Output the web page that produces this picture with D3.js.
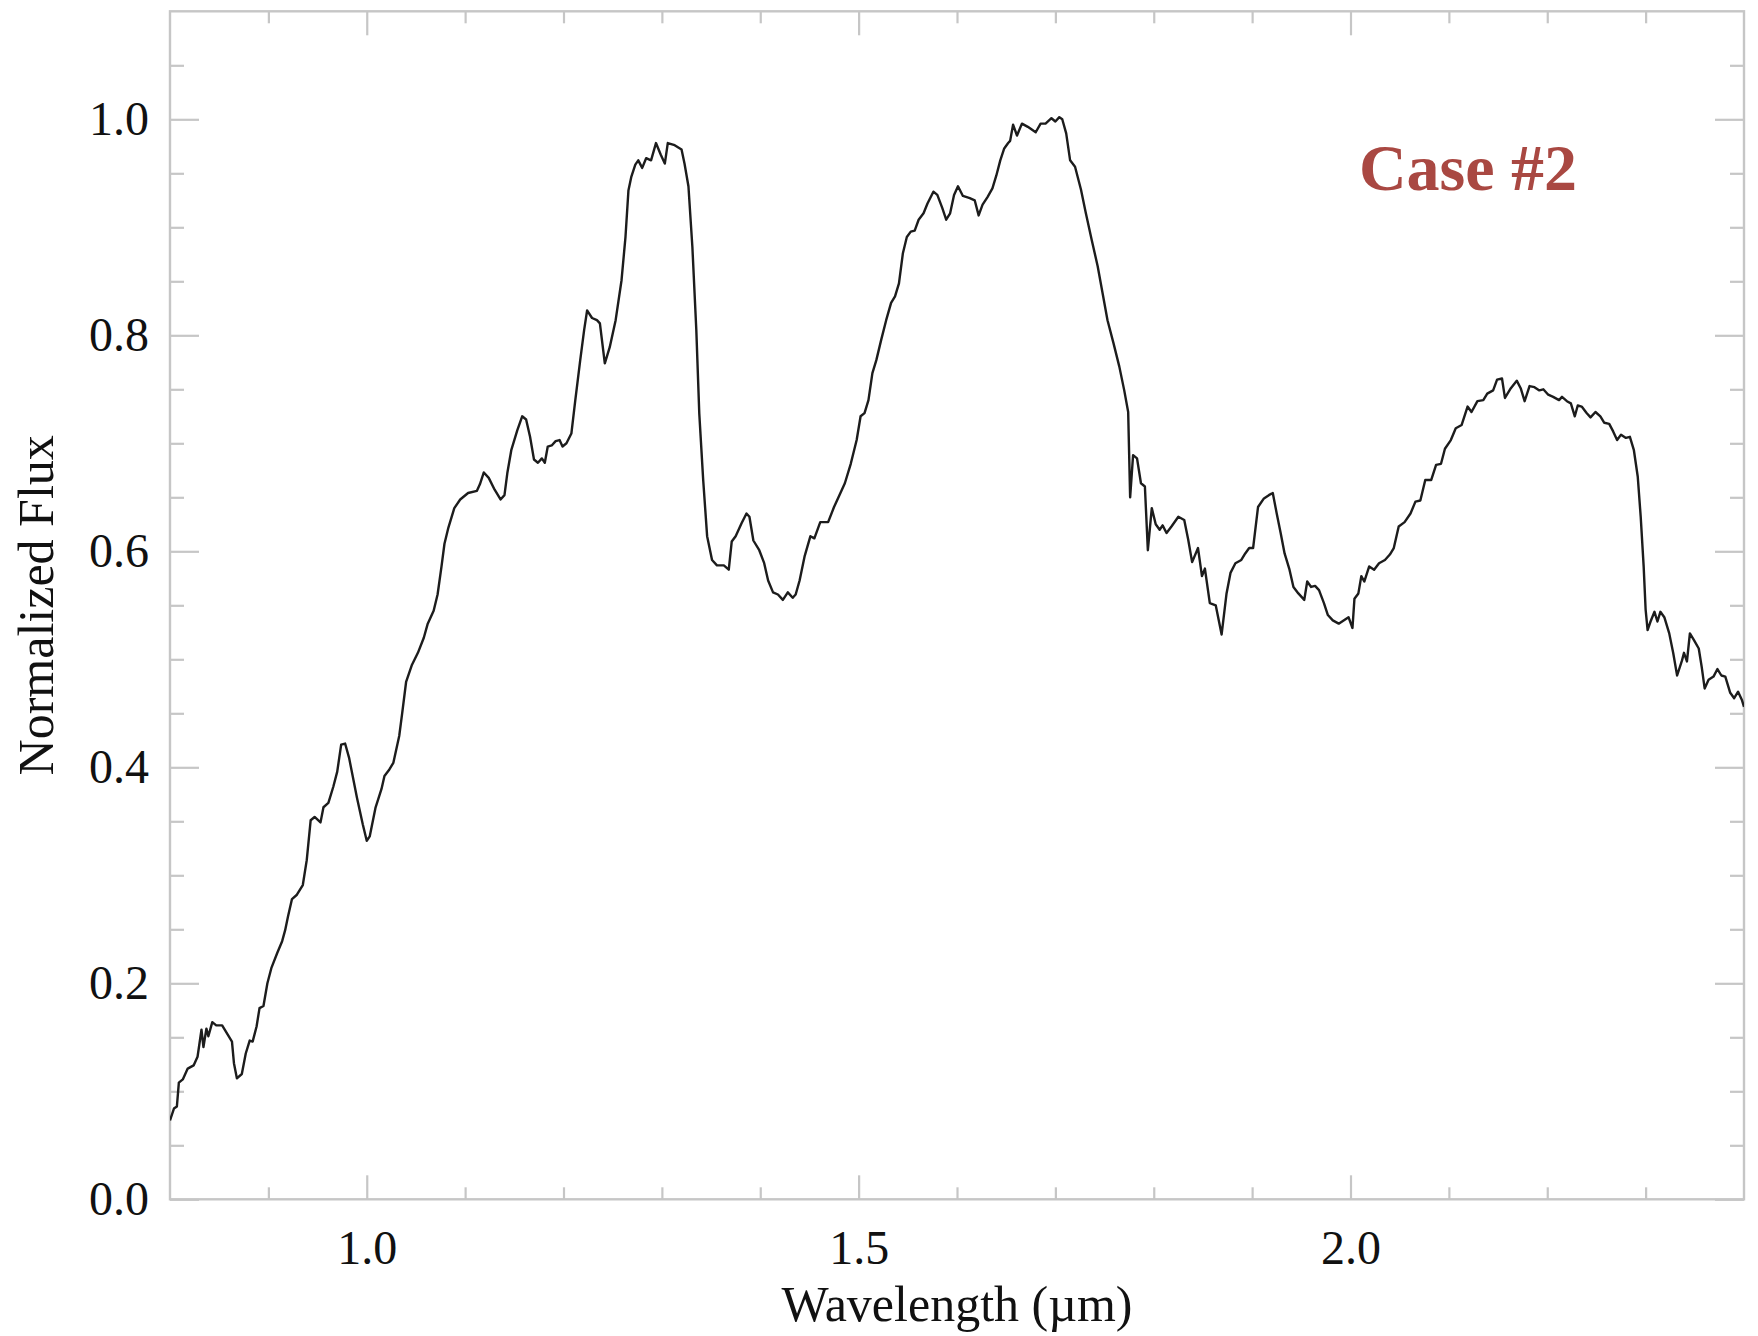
<!DOCTYPE html>
<html>
<head>
<meta charset="utf-8">
<script src="https://cdn.jsdelivr.net/npm/d3@7"></script>
<style>
  html, body { margin: 0; padding: 0; background: #ffffff; }
  svg { display: block; }
  .tick text { font-family: "Liberation Serif", "Times New Roman", serif; fill: #111; }
</style>
</head>
<body>
<svg id="chart" width="1758" height="1336"></svg>
<script>
// Spectrum samples: wavelength in microns and normalized flux
const wavelength = [
  0.800,0.804,0.807,0.809,0.813,0.818,0.824,0.828,0.832,0.834,0.837,0.839,0.843,0.847,0.853,0.859,0.863,0.865,0.868,0.873,
  0.877,0.881,0.884,0.888,0.891,0.895,0.899,0.903,0.909,0.914,0.917,0.920,0.924,0.929,0.935,0.939,0.943,0.947,0.953,0.956,
  0.961,0.966,0.970,0.974,0.978,0.982,0.990,0.996,1.000,1.003,1.009,1.015,1.018,1.023,1.027,1.033,1.036,1.040,1.046,1.052,
  1.058,1.062,1.068,1.072,1.076,1.079,1.083,1.089,1.095,1.103,1.112,1.115,1.119,1.124,1.130,1.136,1.140,1.143,1.147,1.153,
  1.158,1.162,1.166,1.170,1.174,1.178,1.181,1.184,1.188,1.192,1.196,1.199,1.203,1.208,1.212,1.217,1.221,1.224,1.229,1.234,
  1.237,1.242,1.247,1.253,1.259,1.263,1.266,1.269,1.273,1.276,1.280,1.284,1.289,1.294,1.299,1.303,1.306,1.313,1.320,1.323,
  1.327,1.331,1.335,1.338,1.342,1.346,1.351,1.356,1.363,1.368,1.371,1.375,1.381,1.386,1.389,1.393,1.399,1.404,1.408,1.413,
  1.418,1.423,1.428,1.433,1.436,1.440,1.445,1.451,1.455,1.461,1.469,1.475,1.480,1.486,1.492,1.498,1.502,1.506,1.510,1.514,
  1.518,1.523,1.528,1.533,1.537,1.541,1.545,1.549,1.553,1.557,1.561,1.566,1.570,1.576,1.580,1.585,1.589,1.593,1.597,1.601,
  1.606,1.613,1.618,1.622,1.626,1.631,1.636,1.640,1.644,1.648,1.652,1.654,1.657,1.661,1.666,1.672,1.680,1.685,1.690,1.696,
  1.700,1.704,1.707,1.711,1.715,1.720,1.726,1.731,1.737,1.743,1.748,1.753,1.759,1.765,1.770,1.774,1.776,1.779,1.783,1.787,
  1.791,1.794,1.798,1.802,1.806,1.809,1.813,1.818,1.825,1.831,1.835,1.839,1.845,1.849,1.852,1.857,1.863,1.869,1.874,1.878,
  1.883,1.889,1.893,1.897,1.901,1.906,1.912,1.917,1.921,1.925,1.929,1.933,1.938,1.942,1.947,1.953,1.956,1.960,1.964,1.968,
  1.973,1.977,1.982,1.988,1.993,1.998,2.002,2.004,2.008,2.011,2.014,2.019,2.024,2.029,2.035,2.040,2.044,2.049,2.055,2.061,
  2.066,2.071,2.076,2.082,2.087,2.092,2.096,2.102,2.107,2.113,2.119,2.123,2.129,2.135,2.139,2.145,2.149,2.154,2.157,2.163,
  2.169,2.173,2.177,2.182,2.187,2.192,2.196,2.201,2.206,2.212,2.215,2.220,2.224,2.228,2.231,2.235,2.240,2.244,2.249,2.254,
  2.258,2.263,2.267,2.271,2.275,2.280,2.284,2.288,2.292,2.295,2.298,2.300,2.302,2.305,2.309,2.312,2.315,2.319,2.324,2.328,
  2.332,2.337,2.339,2.342,2.345,2.349,2.354,2.357,2.360,2.364,2.369,2.373,2.377,2.381,2.386,2.390,2.394,2.398,2.400
];
const flux = [
  0.073,0.084,0.086,0.108,0.111,0.121,0.124,0.132,0.157,0.141,0.158,0.151,0.164,0.161,0.161,0.152,0.146,0.126,0.112,0.116,
  0.135,0.147,0.146,0.160,0.177,0.179,0.200,0.214,0.228,0.239,0.249,0.262,0.278,0.282,0.291,0.314,0.351,0.354,0.349,0.363,
  0.367,0.382,0.396,0.421,0.422,0.409,0.372,0.347,0.332,0.336,0.363,0.380,0.392,0.398,0.404,0.429,0.450,0.479,0.495,0.506,
  0.520,0.533,0.545,0.560,0.586,0.607,0.622,0.640,0.648,0.654,0.656,0.662,0.673,0.668,0.657,0.648,0.652,0.673,0.694,0.712,
  0.725,0.722,0.706,0.685,0.682,0.686,0.682,0.697,0.698,0.702,0.703,0.697,0.700,0.709,0.740,0.777,0.805,0.823,0.816,0.814,
  0.811,0.774,0.789,0.814,0.851,0.891,0.934,0.947,0.958,0.962,0.955,0.964,0.962,0.978,0.967,0.959,0.978,0.976,0.972,0.959,
  0.938,0.882,0.805,0.728,0.666,0.614,0.592,0.587,0.587,0.583,0.609,0.614,0.626,0.635,0.632,0.610,0.601,0.589,0.573,0.562,
  0.560,0.555,0.562,0.557,0.560,0.573,0.595,0.614,0.612,0.627,0.627,0.641,0.651,0.663,0.681,0.703,0.725,0.728,0.740,0.765,
  0.777,0.796,0.814,0.830,0.836,0.848,0.876,0.891,0.896,0.897,0.907,0.913,0.922,0.933,0.930,0.918,0.907,0.913,0.930,0.938,
  0.929,0.927,0.925,0.911,0.921,0.928,0.936,0.948,0.962,0.973,0.978,0.980,0.995,0.985,0.996,0.993,0.988,0.996,0.996,1.001,
  0.998,1.002,1.000,0.987,0.962,0.956,0.935,0.913,0.888,0.864,0.839,0.814,0.793,0.771,0.749,0.729,0.650,0.689,0.686,0.663,
  0.660,0.601,0.640,0.625,0.620,0.624,0.617,0.623,0.632,0.629,0.611,0.590,0.603,0.577,0.584,0.552,0.550,0.523,0.561,0.580,
  0.589,0.592,0.598,0.603,0.603,0.641,0.649,0.652,0.654,0.635,0.617,0.598,0.583,0.567,0.561,0.555,0.572,0.567,0.568,0.564,
  0.552,0.541,0.536,0.533,0.536,0.539,0.529,0.556,0.561,0.577,0.572,0.586,0.583,0.589,0.592,0.597,0.603,0.623,0.627,0.635,
  0.646,0.647,0.666,0.666,0.680,0.681,0.695,0.703,0.714,0.717,0.734,0.729,0.739,0.740,0.746,0.749,0.759,0.760,0.742,0.751,
  0.758,0.751,0.739,0.753,0.752,0.749,0.750,0.745,0.743,0.740,0.743,0.739,0.737,0.725,0.735,0.734,0.728,0.724,0.729,0.725,
  0.719,0.718,0.711,0.703,0.708,0.705,0.706,0.694,0.669,0.632,0.586,0.546,0.527,0.535,0.544,0.535,0.544,0.539,0.524,0.506,
  0.485,0.499,0.506,0.498,0.524,0.518,0.510,0.493,0.473,0.481,0.484,0.491,0.485,0.484,0.469,0.464,0.470,0.462,0.456
];

// Axis ticks
const xMajorTicks = [1.0, 1.5, 2.0];
const xMinorTicks = [0.9, 1.1, 1.2, 1.3, 1.4, 1.6, 1.7, 1.8, 1.9, 2.1, 2.2, 2.3];
const yMajorTicks = [0.0, 0.2, 0.4, 0.6, 0.8, 1.0];
const yMinorTicks = [0.05, 0.1, 0.15, 0.25, 0.3, 0.35, 0.45, 0.5, 0.55, 0.65, 0.7, 0.75, 0.85, 0.9, 0.95, 1.05];

const xLabel = "Wavelength (\u00b5m)";
const yLabel = "Normalized Flux";
const caseLabel = "Case #2";

const W = 1758, H = 1336;
const plot = { left: 170, right: 1744, top: 11.3, bottom: 1199.3 };
const axisColor = "#c6c6c6";
const serif = '"Liberation Serif", "Times New Roman", serif';

const svg = d3.select("#chart");
svg.append("rect").attr("width", W).attr("height", H).attr("fill", "#fff");

const x = d3.scaleLinear().domain([0.8, 2.4]).range([plot.left, plot.right]);
const y = d3.scaleLinear().domain([0, 1.1]).range([plot.bottom, plot.top]);

function styleAxis(g) {
  g.select(".domain").remove();
  g.selectAll(".tick line").attr("stroke", axisColor).attr("stroke-width", 2.2);
  g.selectAll(".tick text").attr("font-family", serif).attr("font-size", 48).attr("fill", "#111");
}

// bottom axis: major ticks with labels, minor ticks without
svg.append("g").attr("transform", `translate(0,${plot.bottom})`)
  .call(d3.axisBottom(x).tickValues(xMajorTicks).tickSize(-24).tickPadding(31).tickFormat(d3.format(".1f")))
  .call(styleAxis);
svg.append("g").attr("transform", `translate(0,${plot.bottom})`)
  .call(d3.axisBottom(x).tickValues(xMinorTicks).tickSize(-12).tickFormat(""))
  .call(styleAxis);
// top axis
svg.append("g").attr("transform", `translate(0,${plot.top})`)
  .call(d3.axisTop(x).tickValues(xMajorTicks).tickSize(-24).tickFormat(""))
  .call(styleAxis);
svg.append("g").attr("transform", `translate(0,${plot.top})`)
  .call(d3.axisTop(x).tickValues(xMinorTicks).tickSize(-12).tickFormat(""))
  .call(styleAxis);
// left axis
svg.append("g").attr("transform", `translate(${plot.left},0)`)
  .call(d3.axisLeft(y).tickValues(yMajorTicks).tickSize(-29).tickPadding(21).tickFormat(d3.format(".1f")))
  .call(styleAxis);
svg.append("g").attr("transform", `translate(${plot.left},0)`)
  .call(d3.axisLeft(y).tickValues(yMinorTicks).tickSize(-14).tickFormat(""))
  .call(styleAxis);
// right axis
svg.append("g").attr("transform", `translate(${plot.right},0)`)
  .call(d3.axisRight(y).tickValues(yMajorTicks).tickSize(-29).tickFormat(""))
  .call(styleAxis);
svg.append("g").attr("transform", `translate(${plot.right},0)`)
  .call(d3.axisRight(y).tickValues(yMinorTicks).tickSize(-14).tickFormat(""))
  .call(styleAxis);

// frame
svg.append("rect")
  .attr("x", plot.left).attr("y", plot.top)
  .attr("width", plot.right - plot.left).attr("height", plot.bottom - plot.top)
  .attr("fill", "none").attr("stroke", axisColor).attr("stroke-width", 2.4);

// spectrum
svg.append("clipPath").attr("id", "plotClip").append("rect")
  .attr("x", plot.left).attr("y", plot.top)
  .attr("width", plot.right - plot.left).attr("height", plot.bottom - plot.top);

const points = wavelength.map((w, i) => [w, flux[i]]);
svg.append("path")
  .datum(points)
  .attr("clip-path", "url(#plotClip)")
  .attr("fill", "none")
  .attr("stroke", "#1c1c1c")
  .attr("stroke-width", 2.4)
  .attr("stroke-linejoin", "round")
  .attr("d", d3.line().x(d => x(d[0])).y(d => y(d[1])));

// axis titles
svg.append("text")
  .attr("x", (plot.left + plot.right) / 2).attr("y", 1321)
  .attr("text-anchor", "middle")
  .attr("font-family", serif).attr("font-size", 50).attr("fill", "#111")
  .text(xLabel);

svg.append("text")
  .attr("transform", `translate(53,${(plot.top + plot.bottom) / 2}) rotate(-90)`)
  .attr("text-anchor", "middle")
  .attr("font-family", serif).attr("font-size", 50).attr("fill", "#111")
  .text(yLabel);

// case annotation
svg.append("text")
  .attr("x", 1468).attr("y", 190)
  .attr("text-anchor", "middle")
  .attr("font-family", serif).attr("font-weight", "bold").attr("font-size", 66)
  .attr("fill", "#a94842")
  .text(caseLabel);
</script>
</body>
</html>
